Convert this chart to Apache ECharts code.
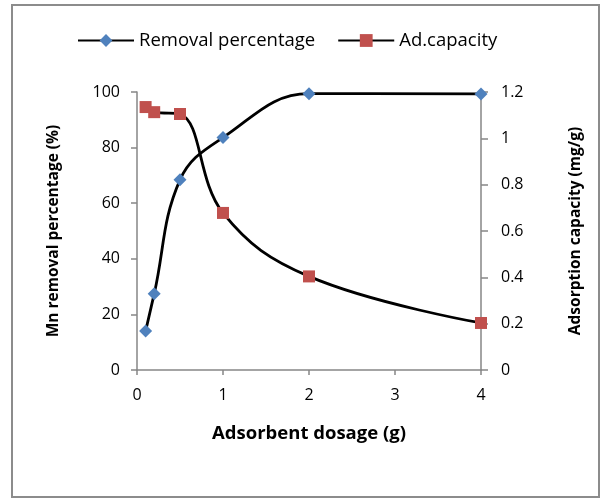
<!DOCTYPE html>
<html>
<head>
<meta charset="utf-8">
<script src="https://cdn.jsdelivr.net/npm/echarts@6/dist/echarts.min.js"></script>
<style>
  html, body { margin: 0; padding: 0; background: #fff; }
  #chart { width: 602px; height: 500px; }
</style>
</head>
<body>
<div id="chart"></div>
<script>
// Adsorbent dosage (g)
const dosage = [0.1, 0.2, 0.5, 1, 2, 4];
// Mn removal percentage (%)
const removalPct = [14.0, 27.4, 68.4, 83.6, 99.4, 99.3];
// Adsorption capacity (mg/g)
const adCapacity = [1.135, 1.113, 1.105, 0.678, 0.404, 0.203];

const xTicks = [0, 1, 2, 3, 4];

const font = '"Open Sans", Lato, sans-serif';
const axisGray = '#868686';

const pairs = (xs, ys) => xs.map((x, i) => [x, ys[i]]);

const chart = echarts.init(document.getElementById('chart'), null, { renderer: 'canvas' });
chart.setOption({
  backgroundColor: '#fff',
  animation: false,
  graphic: [{
    type: 'rect',
    shape: { x: 12, y: 5, width: 587, height: 492 },
    style: { fill: 'none', stroke: '#8c8c8c', lineWidth: 2 },
    silent: true
  }],
  legend: {
    top: 26,
    left: 72,
    itemWidth: 56,
    itemHeight: 16,
    itemGap: 22,
    textStyle: { fontFamily: font, fontSize: 18.5, color: '#000' },
    data: ['Removal percentage', 'Ad.capacity']
  },
  grid: { left: 137, right: 121, top: 92, bottom: 130, containLabel: false },
  xAxis: {
    type: 'value',
    min: 0, max: 4, interval: 1,
    name: 'Adsorbent dosage (g)',
    nameLocation: 'middle',
    nameGap: 54,
    nameTextStyle: { fontFamily: font, fontSize: 18.5, fontWeight: 'bold', color: '#000' },
    axisLine: { show: true, lineStyle: { color: axisGray, width: 1.5 } },
    axisTick: { show: true, length: 5, lineStyle: { color: axisGray, width: 1.5 } },
    axisLabel: {
      margin: 17, fontFamily: font, fontSize: 16, color: '#000',
      formatter: v => xTicks.includes(v) ? String(v) : ''
    },
    splitLine: { show: false }
  },
  yAxis: [{
    type: 'value',
    min: 0, max: 100, interval: 20,
    position: 'left',
    name: 'Mn removal percentage (%)',
    nameLocation: 'middle',
    nameGap: 75,
    nameTextStyle: { fontFamily: font, fontSize: 15.5, fontWeight: 'bold', color: '#000' },
    axisLine: { show: true, lineStyle: { color: axisGray, width: 1.5 } },
    axisTick: { show: true, length: 6, lineStyle: { color: axisGray, width: 1.5 } },
    axisLabel: { margin: 17, fontFamily: font, fontSize: 16, color: '#000' },
    splitLine: { show: false }
  }, {
    type: 'value',
    min: 0, max: 1.2, interval: 0.2,
    position: 'right',
    name: 'Adsorption capacity (mg/g)',
    nameLocation: 'middle',
    nameGap: 87,
    nameTextStyle: { fontFamily: font, fontSize: 15.5, fontWeight: 'bold', color: '#000' },
    axisLine: { show: true, lineStyle: { color: axisGray, width: 1.5 } },
    axisTick: { show: true, length: 7, lineStyle: { color: axisGray, width: 1.5 } },
    axisLabel: {
      margin: 20, fontFamily: font, fontSize: 16, color: '#000',
      formatter: v => String(Math.round(v * 10) / 10)
    },
    splitLine: { show: false }
  }],
  series: [{
    name: 'Removal percentage',
    type: 'line',
    yAxisIndex: 0,
    data: pairs(dosage, removalPct),
    smooth: 0.4,
    symbol: 'diamond',
    symbolSize: 13,
    lineStyle: { color: '#000', width: 2.8 },
    itemStyle: { color: '#4f81bd', borderWidth: 0 },
    z: 3
  }, {
    name: 'Ad.capacity',
    type: 'line',
    yAxisIndex: 1,
    data: pairs(dosage, adCapacity),
    smooth: 0.4,
    symbol: 'rect',
    symbolSize: 12,
    lineStyle: { color: '#000', width: 2.8 },
    itemStyle: { color: '#c0504d', borderWidth: 0 },
    z: 3
  }]
});
</script>
</body>
</html>
